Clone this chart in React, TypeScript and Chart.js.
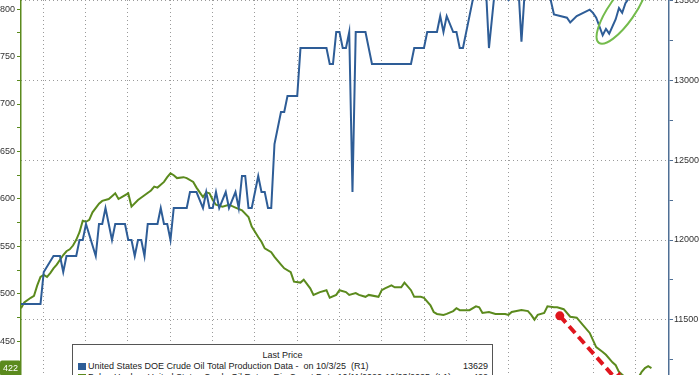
import React, { useEffect, useRef } from 'react';
import { Chart, registerables } from 'chart.js';

Chart.register(...registerables);

// ---- Data (x = week index from start of chart) ----
const prodWeeks = [0, 6, 7, 10, 12, 13, 14, 17, 18, 19, 20, 23, 24, 25, 26, 28, 29, 32, 33, 34, 35, 36, 37, 38, 39, 42, 43, 44, 45, 46, 47, 51, 52, 54, 56, 57, 58, 59, 60, 61, 63, 64, 66, 67, 68, 69, 70, 71, 73, 74, 75, 76, 77, 78, 80, 81, 82, 85, 86, 94, 95, 96, 97, 98, 99, 100, 101, 102, 103, 106, 108, 120, 121, 124, 125, 128, 129, 130, 131, 133, 134, 135, 136, 138, 139, 140, 143, 144, 146, 150, 153, 154, 155, 160, 163, 164, 168, 169, 171, 175, 176, 177, 179, 180, 181, 183, 184, 185, 186, 187, 189, 191, 194];
const prodValues = [11600, 11600, 11800, 11900, 11900, 11800, 11900, 11900, 12000, 12000, 12100, 11900, 12100, 12100, 12200, 12000, 12100, 12100, 12000, 12000, 11900, 12000, 12000, 11900, 12100, 12100, 12200, 12100, 12100, 12000, 12200, 12200, 12300, 12300, 12200, 12300, 12200, 12200, 12300, 12200, 12300, 12200, 12300, 12200, 12400, 12400, 12200, 12200, 12400, 12300, 12300, 12200, 12200, 12600, 12800, 12800, 12900, 12900, 13200, 13200, 13100, 13100, 13300, 13300, 13200, 13200, 13300, 12300, 13300, 13300, 13100, 13100, 13200, 13200, 13300, 13300, 13400, 13300, 13400, 13300, 13300, 13200, 13200, 13400, 13500, 13600, 13600, 13200, 13600, 13500, 13600, 13240, 13550, 13600, 13500, 13410, 13390, 13360, 13400, 13440, 13420, 13390, 13280, 13320, 13290, 13380, 13450, 13420, 13480, 13510, 13560, 13590, 13629];

const rigWeeks = [0, 1, 3, 4, 5, 6, 7, 8, 9, 10, 11, 13, 14, 15, 16, 17, 18, 19, 20, 21, 22, 24, 25, 27, 28, 29, 30, 31, 33, 34, 36, 38, 40, 41, 42, 44, 45, 46, 47, 48, 50, 51, 53, 54, 55, 56, 57, 58, 59, 60, 62, 64, 66, 68, 70, 71, 73, 74, 75, 77, 78, 80, 81, 83, 84, 86, 87, 89, 90, 92, 94, 95, 97, 98, 100, 101, 103, 104, 106, 107, 110, 111, 112, 114, 115, 117, 118, 120, 121, 123, 124, 126, 127, 128, 130, 131, 133, 134, 135, 138, 140, 141, 142, 144, 146, 149, 150, 151, 154, 156, 157, 158, 159, 161, 162, 164, 165, 167, 169, 171, 173, 175, 177, 179, 180, 182, 183, 184, 186, 188, 190, 191, 192, 193, 194];
const rigValues = [485, 491, 496, 498, 509, 518, 520, 518, 522, 527, 531, 541, 545, 547, 551, 557, 565, 577, 576, 578, 586, 595, 598, 600, 603, 606, 600, 602, 606, 592, 599, 604, 609, 613, 612, 618, 623, 627, 625, 622, 623, 622, 618, 612, 607, 602, 607, 606, 599, 594, 592, 594, 591, 588, 581, 571, 560, 555, 548, 544, 539, 531, 527, 523, 513, 512, 515, 506, 499, 502, 504, 496, 499, 504, 502, 499, 501, 499, 497, 499, 497, 504, 506, 509, 507, 507, 512, 504, 497, 497, 496, 488, 481, 479, 478, 479, 482, 485, 483, 483, 487, 486, 480, 481, 479, 479, 478, 481, 483, 482, 478, 473, 478, 480, 487, 486, 486, 484, 476, 475, 467, 459, 444, 439, 436, 428, 425, 418, 412, 410, 412, 418, 422, 424, 422];

// quarter gridlines (week positions)
const quarterGrid = [6.8, 19.8, 32.9, 45.9, 58.9, 72.0, 85.0, 98.0, 111.0, 124.1, 137.1, 150.1, 163.2, 176.2, 189.2];

const prodLabel = 'United States DOE Crude Oil Total Production Data -  on 10/3/25  (R1)';
const prodLast = '13629';
const rigLabel = 'Baker Hughes United States Crude Oil Rotary Rig Count Data 10/11/2020-10/03/2025  (L1)';
const rigLast = '422';

// annotations in data units
const ellipseAt = { x: 184.9, y: 13437 };
const arrowFrom = { x: 165.8, y: 477 };
const arrowTo = { x: 184.5, y: 405 };

const BLUE = '#2e5d97';
const GREEN = '#5b8a1d';
const FONT = 'Liberation Sans, Arial, sans-serif';

const annotPlugin = {
  id: 'annot',
  afterDatasetsDraw(chart: any) {
    const ctx = chart.ctx;
    const sx = chart.scales.x;
    const yl = chart.scales.yL;
    const yr = chart.scales.yR;
    // ellipse
    ctx.save();
    ctx.strokeStyle = '#74bb4c';
    ctx.lineWidth = 2;
    ctx.beginPath();
    ctx.ellipse(sx.getPixelForValue(ellipseAt.x), yr.getPixelForValue(ellipseAt.y), 40, 13, -55 * Math.PI / 180, 0, Math.PI * 2);
    ctx.stroke();
    ctx.restore();
    // red arrow
    const x1 = sx.getPixelForValue(arrowFrom.x), y1 = yl.getPixelForValue(arrowFrom.y);
    const x2 = sx.getPixelForValue(arrowTo.x), y2 = yl.getPixelForValue(arrowTo.y);
    const ang = Math.atan2(y2 - y1, x2 - x1);
    ctx.save();
    ctx.strokeStyle = '#e0161e';
    ctx.fillStyle = '#e0161e';
    ctx.lineWidth = 4;
    ctx.setLineDash([9, 5]);
    ctx.beginPath();
    ctx.moveTo(x1, y1);
    ctx.lineTo(x2 - Math.cos(ang) * 8, y2 - Math.sin(ang) * 8);
    ctx.stroke();
    ctx.setLineDash([]);
    ctx.beginPath();
    ctx.arc(x1, y1, 4.5, 0, Math.PI * 2);
    ctx.fill();
    ctx.beginPath();
    ctx.moveTo(x2 + Math.cos(ang) * 6, y2 + Math.sin(ang) * 6);
    ctx.lineTo(x2 - Math.cos(ang) * 10 + Math.cos(ang + Math.PI / 2) * 8, y2 - Math.sin(ang) * 10 + Math.sin(ang + Math.PI / 2) * 8);
    ctx.lineTo(x2 - Math.cos(ang) * 10 - Math.cos(ang + Math.PI / 2) * 8, y2 - Math.sin(ang) * 10 - Math.sin(ang + Math.PI / 2) * 8);
    ctx.closePath();
    ctx.fill();
    ctx.restore();
  },
  afterDraw(chart: any) {
    const ctx = chart.ctx;
    const yl = chart.scales.yL;
    const y = yl.getPixelForValue(Number(rigLast));
    ctx.save();
    ctx.fillStyle = GREEN;
    ctx.beginPath();
    if (ctx.roundRect) ctx.roundRect(0, y - 7.5, 21, 15, 2); else ctx.rect(0, y - 7.5, 21, 15);
    ctx.fill();
    ctx.fillStyle = '#fff';
    ctx.font = `9px ${FONT}`;
    ctx.textAlign = 'center';
    ctx.textBaseline = 'middle';
    ctx.fillText(rigLast, 10.5, y + 0.5);
    ctx.restore();
  },
};

export default function App() {
  const ref = useRef<HTMLCanvasElement>(null);
  useEffect(() => {
    if (!ref.current) return;
    const chart = new Chart(ref.current, {
      type: 'line',
      data: {
        datasets: [
          {
            label: 'Production',
            data: prodWeeks.map((w, i) => ({ x: w, y: prodValues[i] })),
            yAxisID: 'yR',
            borderColor: BLUE,
            borderWidth: 2,
            pointRadius: 0,
            tension: 0,
          },
          {
            label: 'Rig Count',
            data: rigWeeks.map((w, i) => ({ x: w, y: rigValues[i] })),
            yAxisID: 'yL',
            borderColor: GREEN,
            borderWidth: 2,
            pointRadius: 0,
            tension: 0,
          },
        ],
      },
      options: {
        responsive: false,
        animation: false,
        layout: { padding: 0 },
        plugins: { legend: { display: false }, tooltip: { enabled: false } },
        scales: {
          x: {
            type: 'linear',
            min: 0,
            max: 199.4,
            ticks: { display: false },
            grid: { color: '#9a9a9a', drawTicks: false, lineWidth: 1 },
            border: { display: false, dash: [1, 3] },
            afterBuildTicks: (s: any) => { s.ticks = quarterGrid.map((v) => ({ value: v })); },
            afterFit: (s: any) => { s.height = 0; },
          },
          yL: {
            type: 'linear',
            position: 'left',
            min: 414.7,
            max: 809.5,
            ticks: {
              stepSize: 25,
              includeBounds: false,
              maxTicksLimit: 100,
              autoSkip: false,
              padding: 2,
              color: '#333',
              font: { family: FONT, size: 9 },
              callback: (v: any) => (Number(v) % 50 === 0 ? String(v) : ''),
            },
            grid: { drawOnChartArea: false, tickLength: 4, tickColor: GREEN },
            border: { color: GREEN, width: 1.5 },
            afterFit: (s: any) => { s.width = 21; s.paddingTop = 0; s.paddingBottom = 0; },
          },
          yR: {
            type: 'linear',
            position: 'right',
            min: 11156,
            max: 13500.5,
            ticks: {
              stepSize: 250,
              includeBounds: false,
              maxTicksLimit: 100,
              autoSkip: false,
              padding: 1,
              color: '#333',
              font: { family: FONT, size: 9 },
              callback: (v: any) => (Number(v) % 500 === 0 ? String(v) : ''),
            },
            grid: {
              tickLength: 4,
              tickColor: '#4f6f95',
              color: (c: any) => (c.tick && c.tick.value % 500 === 0 ? '#9a9a9a' : 'rgba(0,0,0,0)'),
            },
            border: { color: '#4f6f95', width: 1.5, dash: [1, 3] },
            afterFit: (s: any) => { s.width = 31; s.paddingTop = 0; s.paddingBottom = 0; },
          },
        },
      },
      plugins: [annotPlugin],
    } as any);
    return () => chart.destroy();
  }, []);

  const rowText: React.CSSProperties = { position: 'absolute', whiteSpace: 'pre', lineHeight: '10px' };
  return (
    <div style={{ position: 'fixed', left: 0, top: 0, width: 700, height: 375, overflow: 'hidden', background: '#fff' }}>
      <canvas ref={ref} width={700} height={375} style={{ display: 'block' }} />
      <div
        style={{
          position: 'absolute', left: 72, top: 344, width: 419, height: 60,
          border: '1px solid #555', background: '#fff', fontFamily: FONT, fontSize: 9, color: '#222',
        }}
      >
        <span style={{ ...rowText, left: 0, width: 419, textAlign: 'center', top: 5 }}>Last Price</span>
        <span style={{ position: 'absolute', left: 5, top: 18, width: 8, height: 7, background: BLUE }} />
        <span style={{ ...rowText, left: 15, top: 16 }}>{prodLabel}</span>
        <span style={{ ...rowText, right: 4, top: 16 }}>{prodLast}</span>
        <span style={{ position: 'absolute', left: 5, top: 29, width: 8, height: 7, background: GREEN }} />
        <span style={{ ...rowText, left: 15, top: 27 }}>{rigLabel}</span>
        <span style={{ ...rowText, right: 4, top: 27 }}>{rigLast}</span>
      </div>
    </div>
  );
}
